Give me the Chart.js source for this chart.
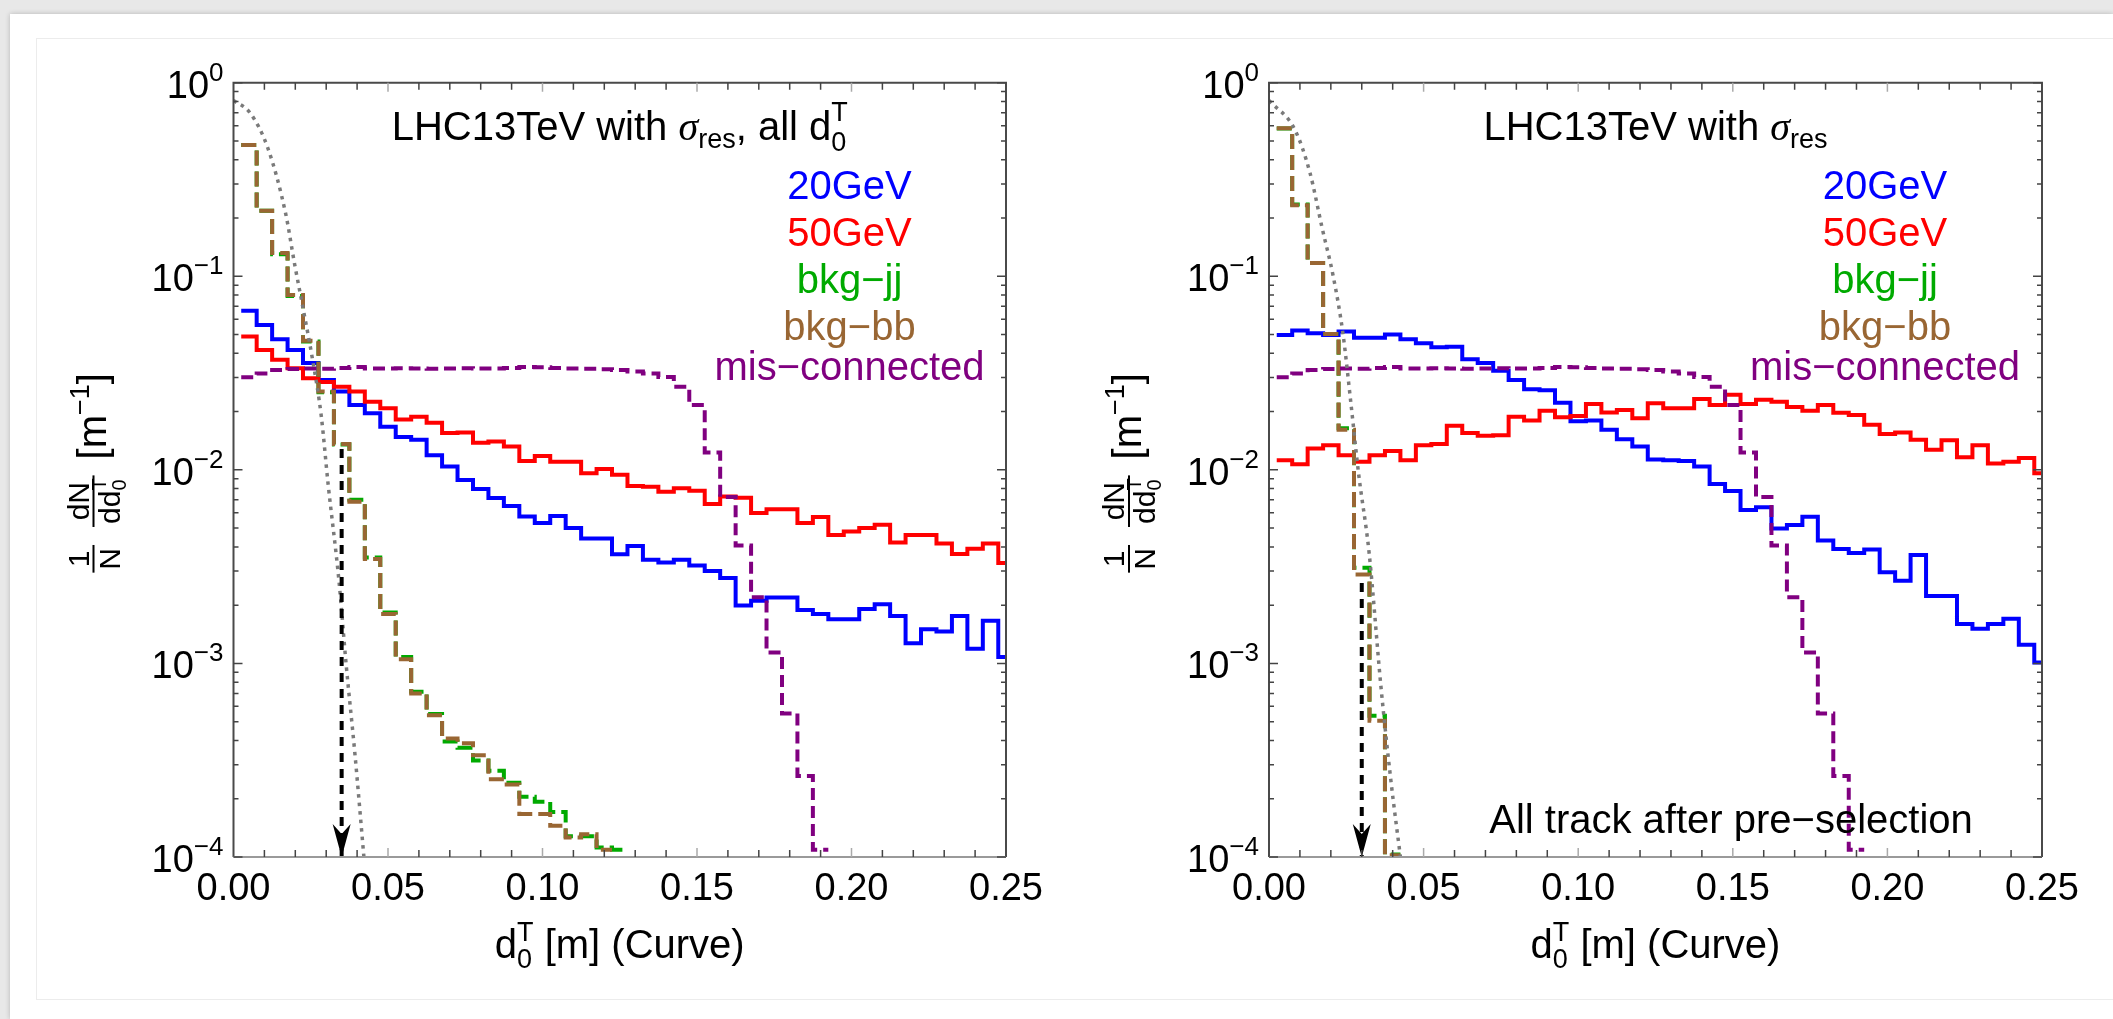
<!DOCTYPE html>
<html lang="en">
<head>
<meta charset="utf-8">
<title>d0T distributions, LHC 13 TeV</title>
<script src="https://cdn.jsdelivr.net/npm/chart.js@4.4.1/dist/chart.umd.min.js"></script>
<style>
  html, body { margin: 0; padding: 0; }
  body { position: relative; width: 2113px; height: 1019px; overflow: hidden; background: #e8e8e8; }
  #sheet { position: absolute; left: 10px; top: 14px; width: 2103px; height: 1005px; background: #fff; box-shadow: 0 0 5px rgba(0,0,0,0.22); }
  #figure { position: absolute; left: 36px; top: 38px; width: 2077px; height: 962px; border: 1px solid #ececec; border-right: 0; box-sizing: border-box; }
  canvas { position: absolute; top: 40px; }
  #leftPanel { left: 40px; }
  #rightPanel { left: 1060px; }
</style>
</head>
<body>
<div id="sheet"></div>
<div id="figure"></div>
<canvas id="leftPanel" width="1020" height="958"></canvas>
<canvas id="rightPanel" width="1053" height="958"></canvas>
<script>
// histogram bins of 0.005 m, centred on 0.005 ... 0.250
const binWidth = 0.005;
const binCenters = Array.from({ length: 50 }, (_, i) => +(binWidth * (i + 1)).toFixed(3));

// ---- left panel: all d0T ----
const left20GeV = [
  0.0664, 0.0560, 0.0473, 0.0416, 0.0356, 0.0291, 0.0254, 0.0216, 0.0196, 0.0167,
  0.0148, 0.0143, 0.0119, 0.0104, 0.00887, 0.00797, 0.00716, 0.00651, 0.00574, 0.00532,
  0.00578, 0.00500, 0.00442, 0.00442, 0.00366, 0.00404, 0.00343, 0.00332, 0.00343, 0.00321,
  0.00300, 0.00276, 0.00199, 0.00211, 0.00219, 0.00219, 0.00189, 0.00180, 0.00169, 0.00169,
  0.00191, 0.00202, 0.00176, 0.00127, 0.00150, 0.00146, 0.00176, 0.00119, 0.00166, 0.00108
];
const left50GeV = [
  0.0488, 0.0416, 0.0370, 0.0335, 0.0297, 0.0284, 0.0269, 0.0254, 0.0225, 0.0208,
  0.0182, 0.0188, 0.0175, 0.0155, 0.0156, 0.0138, 0.0140, 0.0132, 0.0111, 0.0118,
  0.0110, 0.0110, 0.00960, 0.0101, 0.00942, 0.00826, 0.00819, 0.00771, 0.00803, 0.00781,
  0.00667, 0.00729, 0.00717, 0.00599, 0.00626, 0.00626, 0.00532, 0.00570, 0.00461, 0.00480,
  0.00500, 0.00520, 0.00421, 0.00461, 0.00461, 0.00416, 0.00368, 0.00391, 0.00416, 0.00330
];
const leftBkgJJ = [
  0.477, 0.218, 0.130, 0.079, 0.046, 0.0252, 0.0135, 0.0070, 0.00353, 0.00183,
  0.00108, 0.000715, 0.000548, 0.000395, 0.000367, 0.000315, 0.000279, 0.000242, 0.000205, 0.000193,
  0.000171, 0.000128, 0.000128, 0.000112, 0.000109, null, null, null, null, null,
  null, null, null, null, null, null, null, null, null, null,
  null, null, null, null, null, null, null, null, null, null
];
const leftBkgBB = [
  0.477, 0.218, 0.132, 0.0800, 0.0465, 0.0254, 0.0136, 0.00685, 0.00346, 0.00180,
  0.00105, 0.00070, 0.00054, 0.00041, 0.000387, 0.000335, 0.000252, 0.000237, 0.000167, 0.000167,
  0.000145, 0.000126, 0.000131, 0.000109, null, null, null, null, null, null,
  null, null, null, null, null, null, null, null, null, null,
  null, null, null, null, null, null, null, null, null, null
];

// mis-connected tracks (same in both panels)
const misConnected = [
  0.0301, 0.0315, 0.0328, 0.0332, 0.0334, 0.0333, 0.0336, 0.0340, 0.0334, 0.0334,
  0.0335, 0.0334, 0.0333, 0.0334, 0.0335, 0.0334, 0.0334, 0.0336, 0.0340, 0.0339,
  0.0336, 0.0334, 0.0333, 0.0331, 0.0328, 0.0322, 0.0315, 0.0302, 0.0269, 0.0216,
  0.0123, 0.00723, 0.00407, 0.00220, 0.00114, 0.000552, 0.000262, 0.000109, null, null,
  null, null, null, null, null, null, null, null, null, null
];

// ---- right panel: after pre-selection ----
const right20GeV = [
  0.0498, 0.0524, 0.0508, 0.0498, 0.0518, 0.0482, 0.0482, 0.0501, 0.0473, 0.0451,
  0.0430, 0.0433, 0.0373, 0.0356, 0.0325, 0.0291, 0.0261, 0.0258, 0.0222, 0.0178,
  0.0180, 0.0161, 0.0144, 0.0132, 0.0113, 0.0112, 0.0111, 0.0104, 0.00845, 0.00778,
  0.00621, 0.00641, 0.00498, 0.00519, 0.00573, 0.00432, 0.00390, 0.00372, 0.00388, 0.00296,
  0.00267, 0.00363, 0.00223, 0.00223, 0.00160, 0.00151, 0.00160, 0.00170, 0.00125, 0.00101
];
const right50GeV = [
  0.0112, 0.0107, 0.0129, 0.0134, 0.0119, 0.0110, 0.0119, 0.0125, 0.0112, 0.0134,
  0.0136, 0.0169, 0.0155, 0.0150, 0.0151, 0.0188, 0.0180, 0.0202, 0.0187, 0.0190,
  0.0219, 0.0198, 0.0204, 0.0185, 0.0221, 0.0208, 0.0208, 0.0232, 0.0216, 0.0244,
  0.0219, 0.0230, 0.0225, 0.0211, 0.0202, 0.0216, 0.0197, 0.0192, 0.0171, 0.0153,
  0.0156, 0.0143, 0.0127, 0.0142, 0.0116, 0.0134, 0.0108, 0.0110, 0.0115, 0.0096
];
const rightBkgJJ = [
  0.580, 0.235, 0.117, 0.0504, 0.0164, 0.00312, 0.000537, 0.000103, null, null,
  null, null, null, null, null, null, null, null, null, null,
  null, null, null, null, null, null, null, null, null, null,
  null, null, null, null, null, null, null, null, null, null,
  null, null, null, null, null, null, null, null, null, null
];
const rightBkgBB = [
  0.581, 0.233, 0.117, 0.0504, 0.0161, 0.00288, 0.000505, 0.000102, null, null,
  null, null, null, null, null, null, null, null, null, null,
  null, null, null, null, null, null, null, null, null, null,
  null, null, null, null, null, null, null, null, null, null,
  null, null, null, null, null, null, null, null, null, null
];

// resolution curves (dotted gray)
const leftResX = [0, 0.0053, 0.0111, 0.0169, 0.0198, 0.0227, 0.0256, 0.0284, 0.0306, 0.0342, 0.0364, 0.0393, 0.0422];
const leftResY = [0.81, 0.70, 0.46, 0.21, 0.115, 0.066, 0.037, 0.019, 0.0085, 0.0026, 0.00101, 0.00034, 0.0001];
const rightResX = [0, 0.0084, 0.0133, 0.0171, 0.0208, 0.0239, 0.0265, 0.0290, 0.0324, 0.0362, 0.0394, 0.0425];
const rightResY = [0.81, 0.57, 0.34, 0.18, 0.0995, 0.0508, 0.022, 0.0095, 0.0037, 0.00076, 0.00025, 0.0001];

// d0T cut arrows
const leftCut = { x: 0.035, top: 0.0128 };
const rightCut = { x: 0.030, top: 0.0026 };

// axes
const yMin = 1e-4, yMax = 1;
const xTickValues = [0, 0.05, 0.10, 0.15, 0.20, 0.25];
const xTickLabels = ['0.00', '0.05', '0.10', '0.15', '0.20', '0.25'];
const yTickValues = [1, 0.1, 0.01, 0.001, 0.0001];
const yTickExponents = ['0', '\u22121', '\u22122', '\u22123', '\u22124'];

const legendLabels = ['20GeV', '50GeV', 'bkg\u2212jj', 'bkg\u2212bb', 'mis\u2212connected'];
const colors = {
  sig20: '#0000ff', sig50: '#ff0000', jj: '#00aa00', bb: '#996633',
  mis: '#800080', res: '#7a7a7a', cut: '#000000'
};
const legendColors = [colors.sig20, colors.sig50, colors.jj, colors.bb, colors.mis];

const FAMILY = '"Liberation Sans", Arial, Helvetica, sans-serif';
const font = (px) => px + 'px ' + FAMILY;
const GREEK = 'italic 40px "Liberation Serif", "Times New Roman", serif';

// turn bin values into step-outline points
function histogram(values) {
  const pts = [];
  values.forEach((v, i) => {
    const lo = binCenters[i] - binWidth / 2;
    const hi = binCenters[i] + binWidth / 2;
    if (v == null) { pts.push({ x: lo, y: null }); return; }
    pts.push({ x: lo, y: v }, { x: hi, y: v });
  });
  return pts;
}

function curve(xs, ys) {
  return xs.map((x, i) => ({ x, y: ys[i] }));
}

// text made of runs: plain, shifted (sub/sup) or stacked sup-over-sub
function runsWidth(ctx, runs) {
  let w = 0;
  for (const r of runs) {
    ctx.font = r.font;
    w += r.stack
      ? Math.max(ctx.measureText(r.stack[0]).width, ctx.measureText(r.stack[1]).width)
      : ctx.measureText(r.text).width;
  }
  return w;
}
function drawRuns(ctx, runs, x, y) {
  ctx.textAlign = 'left';
  ctx.textBaseline = 'alphabetic';
  for (const r of runs) {
    ctx.font = r.font;
    if (r.stack) {
      ctx.fillText(r.stack[0], x, y + r.up);
      ctx.fillText(r.stack[1], x, y + r.down);
      x += Math.max(ctx.measureText(r.stack[0]).width, ctx.measureText(r.stack[1]).width);
    } else {
      ctx.fillText(r.text, x, y + (r.dy || 0));
      x += ctx.measureText(r.text).width;
    }
  }
}
function drawCentered(ctx, runs, cx, y) {
  drawRuns(ctx, runs, cx - runsWidth(ctx, runs) / 2, y);
}

// 1/N dN/dd0T [m^-1], rotated
function drawYTitle(ctx, cx, cy) {
  ctx.save();
  ctx.translate(cx, cy);
  ctx.rotate(-Math.PI / 2);
  ctx.fillStyle = '#000';
  ctx.textAlign = 'left';
  ctx.textBaseline = 'alphabetic';

  ctx.font = font(30);
  const w1 = ctx.measureText('1').width, wN = ctx.measureText('N').width;
  const wdN = ctx.measureText('dN').width, wdd = ctx.measureText('dd').width;
  ctx.font = font(20);
  const wScr = Math.max(ctx.measureText('T').width, ctx.measureText('0').width);
  ctx.font = font(40);
  const wOpen = ctx.measureText('[m').width, wClose = ctx.measureText(']').width;
  ctx.font = font(27);
  const wExp = ctx.measureText('\u22121').width;

  const f1 = Math.max(w1, wN) + 6;
  const f2 = Math.max(wdN, wdd + wScr) + 6;
  const total = f1 + 18 + f2 + 16 + wOpen + wExp + wClose;
  const bar = -12, num = bar - 5, den = bar + 26;
  let x = -total / 2;

  ctx.font = font(30);
  ctx.fillText('1', x + (f1 - w1) / 2, num);
  ctx.fillRect(x, bar - 1, f1, 2);
  ctx.fillText('N', x + (f1 - wN) / 2, den);
  x += f1 + 18;

  ctx.fillText('dN', x + (f2 - wdN) / 2, num);
  ctx.fillRect(x, bar - 1, f2, 2);
  const dx = x + (f2 - wdd - wScr) / 2;
  ctx.fillText('dd', dx, den);
  ctx.font = font(20);
  ctx.fillText('T', dx + wdd, den - 14);
  ctx.fillText('0', dx + wdd, den + 6);
  x += f2 + 16;

  ctx.font = font(40);
  ctx.fillText('[m', x, 0);
  x += wOpen;
  ctx.font = font(27);
  ctx.fillText('\u22121', x, -17);
  x += wExp;
  ctx.font = font(40);
  ctx.fillText(']', x, 0);
  ctx.restore();
}

// frame, ticks, labels and in-plot texts
function panelDecor(opts) {
  return {
    id: 'panelDecor',
    afterDatasetsDraw(chart) {
      const { ctx, chartArea: a, scales: { x, y } } = chart;
      ctx.save();

      // arrowhead of the cut marker
      const ax = x.getPixelForValue(opts.cut.x), ay = y.getPixelForValue(yMin);
      ctx.fillStyle = colors.cut;
      ctx.beginPath();
      ctx.moveTo(ax, ay);
      ctx.lineTo(ax - 9, ay - 33);
      ctx.lineTo(ax, ay - 23);
      ctx.lineTo(ax + 9, ay - 33);
      ctx.closePath();
      ctx.fill();

      // frame
      ctx.lineWidth = 2;
      ctx.strokeStyle = '#4a4a4a';
      ctx.beginPath();
      ctx.moveTo(a.left, a.bottom);
      ctx.lineTo(a.left, a.top);
      ctx.lineTo(a.right, a.top);
      ctx.lineTo(a.right, a.bottom);
      ctx.stroke();
      ctx.strokeStyle = '#9a9a9a';
      ctx.beginPath();
      ctx.moveTo(a.left, a.bottom);
      ctx.lineTo(a.right, a.bottom);
      ctx.stroke();

      // x ticks every 0.01
      ctx.lineWidth = 1.5;
      for (let k = 1; k < 25; k++) {
        const px = x.getPixelForValue(k / 100);
        const major = k % 5 === 0;
        const len = major ? 9 : 7;
        ctx.strokeStyle = major ? '#aaaaaa' : '#444444';
        ctx.beginPath();
        ctx.moveTo(px, a.bottom); ctx.lineTo(px, a.bottom - len);
        ctx.moveTo(px, a.top); ctx.lineTo(px, a.top + len);
        ctx.stroke();
      }
      // y ticks, decades and 2..9 minors
      ctx.strokeStyle = '#444444';
      for (let e = -4; e <= 0; e++) {
        for (let m = 1; m <= 9; m++) {
          const v = m * Math.pow(10, e);
          if (v > yMax * 1.0001 || (e === 0 && m > 1)) continue;
          const py = y.getPixelForValue(v);
          const len = m === 1 ? 9 : 5;
          ctx.beginPath();
          ctx.moveTo(a.left, py); ctx.lineTo(a.left + len, py);
          ctx.moveTo(a.right, py); ctx.lineTo(a.right - len, py);
          ctx.stroke();
        }
      }

      ctx.fillStyle = '#000';
      // x tick labels
      ctx.font = font(38);
      ctx.textAlign = 'center';
      ctx.textBaseline = 'alphabetic';
      xTickValues.forEach((v, i) => {
        ctx.fillText(xTickLabels[i], x.getPixelForValue(v), a.bottom + 43);
      });
      // y tick labels 10^n
      yTickValues.forEach((v, i) => {
        const py = y.getPixelForValue(v);
        ctx.font = font(26);
        const we = ctx.measureText(yTickExponents[i]).width;
        ctx.font = font(38);
        const wb = ctx.measureText('10').width;
        const x0 = a.left - 10 - we - wb;
        ctx.textAlign = 'left';
        ctx.fillText('10', x0, py + 15);
        ctx.font = font(26);
        ctx.fillText(yTickExponents[i], x0 + wb, py - 2);
      });

      // axis titles
      const cx = (a.left + a.right) / 2;
      drawCentered(ctx, [
        { text: 'd', font: font(40) },
        { stack: ['T', '0'], font: font(27), up: -17, down: 10 },
        { text: ' [m] (Curve)', font: font(40) }
      ], cx, a.bottom + 101);
      drawYTitle(ctx, a.left - 128, (a.top + a.bottom) / 2 + 3);

      // in-plot title
      ctx.fillStyle = '#000';
      drawCentered(ctx, opts.title, cx, a.top + 57);

      // legend texts
      legendLabels.forEach((t, i) => {
        ctx.fillStyle = legendColors[i];
        ctx.font = font(40);
        ctx.textAlign = 'center';
        ctx.fillText(t, a.left + 616, a.top + [116.6, 163.3, 210.6, 257.3, 297.5][i]);
      });

      if (opts.note) {
        ctx.fillStyle = '#000';
        ctx.font = font(40);
        ctx.textAlign = 'center';
        ctx.fillText(opts.note, a.left + 462, a.bottom - 24);
      }
      ctx.restore();
    }
  };
}

function makePanel(canvasId, padding, series, opts) {
  const line = (data, color, width, dash, extra) => Object.assign({
    data, borderColor: color, borderWidth: width, borderDash: dash || [],
    pointRadius: 0, fill: false, tension: 0, spanGaps: false,
    borderJoinStyle: 'miter', borderCapStyle: 'butt'
  }, extra || {});

  return new Chart(document.getElementById(canvasId), {
    type: 'line',
    data: {
      datasets: [
        line([{ x: opts.cut.x, y: opts.cut.top }, { x: opts.cut.x, y: yMin }], colors.cut, 4, [9, 7]),
        line(curve(series.resX, series.resY), colors.res, 3.5, [3.5, 5], { cubicInterpolationMode: 'monotone' }),
        line(histogram(misConnected), colors.mis, 4, [12, 6]),
        line(histogram(series.bb), colors.bb, 4, [15, 6]),
        line(histogram(series.jj), colors.jj, 4, [15, 6]),
        line(histogram(series.s50), colors.sig50, 4),
        line(histogram(series.s20), colors.sig20, 4)
      ]
    },
    options: {
      responsive: false,
      animation: false,
      devicePixelRatio: 1,
      layout: { padding },
      scales: {
        x: { type: 'linear', min: 0, max: 0.25, display: false },
        y: { type: 'logarithmic', min: yMin, max: yMax, display: false }
      },
      plugins: { legend: { display: false }, tooltip: { enabled: false } }
    },
    plugins: [panelDecor(opts)]
  });
}

makePanel('leftPanel',
  { left: 193.5, right: 54, top: 42.7, bottom: 141 },
  { s20: left20GeV, s50: left50GeV, jj: leftBkgJJ, bb: leftBkgBB, resX: leftResX, resY: leftResY },
  {
    cut: leftCut,
    title: [
      { text: 'LHC13TeV with ', font: font(40) },
      { text: '\u03c3', font: GREEK },
      { text: 'res', font: font(27), dy: 8 },
      { text: ', all d', font: font(40) },
      { stack: ['T', '0'], font: font(27), up: -19, down: 11 }
    ]
  });

makePanel('rightPanel',
  { left: 209, right: 71, top: 42.7, bottom: 141 },
  { s20: right20GeV, s50: right50GeV, jj: rightBkgJJ, bb: rightBkgBB, resX: rightResX, resY: rightResY },
  {
    cut: rightCut,
    title: [
      { text: 'LHC13TeV with ', font: font(40) },
      { text: '\u03c3', font: GREEK },
      { text: 'res', font: font(27), dy: 8 }
    ],
    note: 'All track after pre\u2212selection'
  });
</script>
</body>
</html>
